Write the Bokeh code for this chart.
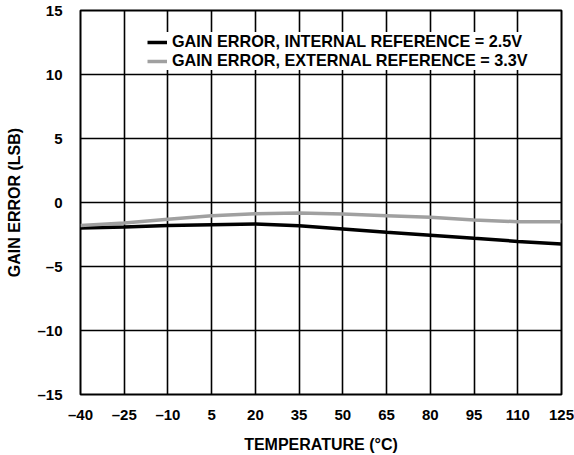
from bokeh.plotting import figure
from bokeh.models import Range1d, FixedTicker, Legend, LegendItem
from bokeh.embed import file_html
from bokeh.resources import INLINE

temperature = [-40, -25, -10, 5, 20, 35, 50, 65, 80, 95, 110, 125]
gain_internal = [-2.0, -1.92, -1.8, -1.74, -1.68, -1.82, -2.07, -2.33, -2.55, -2.8, -3.04, -3.25]
gain_external = [-1.8, -1.6, -1.3, -1.03, -0.87, -0.82, -0.9, -1.03, -1.16, -1.37, -1.5, -1.5]

x_ticks = [-40, -25, -10, 5, 20, 35, 50, 65, 80, 95, 110, 125]
x_tick_labels = ["\u201340", "\u201325", "\u201310", "5", "20", "35", "50", "65", "80", "95", "110", "125"]
y_ticks = [-15, -10, -5, 0, 5, 10, 15]
y_tick_labels = ["\u201315", "\u201310", "\u20135", "0", "5", "10", "15"]

label_internal = "GAIN ERROR, INTERNAL REFERENCE = 2.5V"
label_external = "GAIN ERROR, EXTERNAL REFERENCE = 3.3V"

FONT = "Liberation Sans"

p = figure(width=574, height=455, output_backend="svg", toolbar_location=None,
           x_range=Range1d(-40, 125), y_range=Range1d(-15, 15),
           min_border_left=80, min_border_right=13, min_border_top=10, min_border_bottom=60)

p.outline_line_color = "black"
p.outline_line_width = 2
p.background_fill_color = "white"
p.border_fill_color = "white"

p.xaxis.ticker = FixedTicker(ticks=x_ticks)
p.yaxis.ticker = FixedTicker(ticks=y_ticks)
p.xaxis.major_label_overrides = dict(zip(x_ticks, x_tick_labels))
p.yaxis.major_label_overrides = dict(zip(y_ticks, y_tick_labels))

for ax in (p.xaxis, p.yaxis):
    ax.axis_line_color = None
    ax.major_tick_line_color = None
    ax.minor_tick_line_color = None
    ax.major_label_text_font = FONT
    ax.major_label_text_font_style = "bold"
    ax.major_label_text_font_size = "15px"
    ax.major_label_text_color = "black"
    ax.axis_label_text_font = FONT
    ax.axis_label_text_font_style = "bold"
    ax.axis_label_text_font_size = "16px"
    ax.axis_label_text_color = "black"

p.xaxis.axis_label = "TEMPERATURE (\u00b0C)"
p.yaxis.axis_label = "GAIN ERROR (LSB)"
p.xaxis.major_label_standoff = 5
p.xaxis.axis_label_standoff = 10
p.yaxis.major_label_standoff = 12
p.yaxis.axis_label_standoff = 11

p.xgrid.grid_line_color = "black"
p.ygrid.grid_line_color = "black"
p.xgrid.grid_line_width = 1.6
p.ygrid.grid_line_width = 1.6

r_int = p.line(temperature, gain_internal, line_color="black", line_width=3.5)
r_ext = p.line(temperature, gain_external, line_color="#a0a0a0", line_width=3.5)

legend = Legend(items=[LegendItem(label=label_internal, renderers=[r_int]),
                       LegendItem(label=label_external, renderers=[r_ext])],
                location=(67, 324))
legend.label_text_font = FONT
legend.label_text_font_style = "bold"
legend.label_text_font_size = "16.2px"
legend.label_text_color = "black"
legend.border_line_color = None
legend.background_fill_color = "white"
legend.background_fill_alpha = 1
legend.padding = 2
legend.margin = 0
legend.spacing = 0
legend.glyph_width = 20
legend.glyph_height = 18
legend.label_height = 18
legend.label_standoff = 5
p.add_layout(legend)

open("out.html", "w").write(file_html(p, INLINE))
